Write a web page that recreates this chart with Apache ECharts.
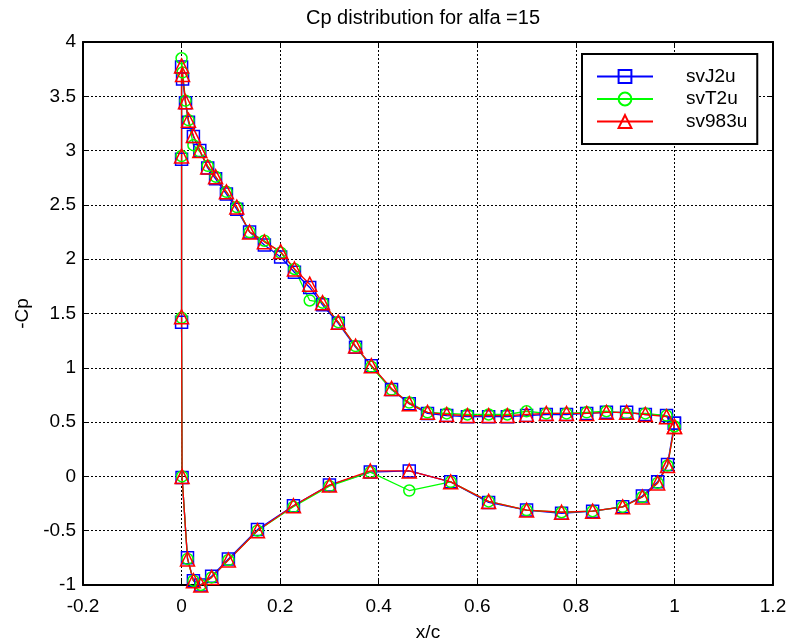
<!DOCTYPE html>
<html>
<head>
<meta charset="utf-8">
<script src="https://cdn.jsdelivr.net/npm/echarts@6/dist/echarts.min.js"></script>
<style>
html,body{margin:0;padding:0;background:#fff;}
#chart{width:797px;height:644px;}
</style>
</head>
<body>
<div id="chart"></div>
<script>
// path: trailing edge -> upper surface -> leading edge -> lower surface -> trailing edge
var xc = [1.000, 0.984, 0.941, 0.903, 0.862, 0.822, 0.781, 0.740, 0.700, 0.661, 0.623, 0.580, 0.538, 0.499, 0.462, 0.426, 0.385, 0.353, 0.318, 0.286, 0.260, 0.229, 0.201, 0.168, 0.138, 0.112, 0.091, 0.069, 0.053, 0.037, 0.024, 0.014, 0.008, 0.002, 0.000,
          0.000, 0.000, 0.001,
          0.012, 0.024, 0.039, 0.061, 0.095, 0.154, 0.227, 0.300, 0.383, 0.462, 0.546, 0.623, 0.700, 0.771, 0.834, 0.895, 0.935, 0.966, 0.986, 1.000];

var svJ2u = [0.49, 0.56, 0.57, 0.59, 0.59, 0.58, 0.57, 0.57, 0.56, 0.55, 0.55, 0.55, 0.56, 0.58, 0.67, 0.80, 1.02, 1.19, 1.41, 1.58, 1.74, 1.88, 2.02, 2.13, 2.25, 2.46, 2.60, 2.74, 2.84, 3.00, 3.13, 3.26, 3.44, 3.66, 3.77,
             2.92, 1.42, -0.01,
             -0.75, -0.96, -1.00, -0.92, -0.76, -0.49, -0.27, -0.08, 0.04, 0.05, -0.05, -0.24, -0.31, -0.34, -0.32, -0.28, -0.18, -0.05, 0.11, 0.49];

var svT2u = [0.46, 0.56, 0.58, 0.58, 0.60, 0.59, 0.58, 0.58, 0.60, 0.57, 0.57, 0.57, 0.58, 0.59, 0.68, 0.80, 1.01, 1.20, 1.42, 1.60, 1.62, 1.91, 2.06, 2.17, 2.25, 2.48, 2.62, 2.76, 2.86, 2.99, 3.05, 3.28, 3.46, 3.72, 3.85,
             2.95, 1.46, 0.00,
             -0.76, -0.96, -1.00, -0.93, -0.77, -0.50, -0.28, -0.09, 0.04, -0.13, -0.05, -0.23, -0.31, -0.33, -0.32, -0.28, -0.19, -0.06, 0.10, 0.46];

var sv983u = [0.46, 0.55, 0.57, 0.59, 0.59, 0.58, 0.58, 0.58, 0.57, 0.56, 0.56, 0.56, 0.57, 0.59, 0.67, 0.81, 1.02, 1.20, 1.42, 1.60, 1.77, 1.91, 2.07, 2.16, 2.25, 2.48, 2.62, 2.76, 2.85, 3.00, 3.14, 3.28, 3.45, 3.70, 3.78,
              2.95, 1.47, 0.00,
              -0.76, -0.96, -1.00, -0.93, -0.77, -0.50, -0.27, -0.08, 0.05, 0.05, -0.05, -0.23, -0.31, -0.33, -0.32, -0.28, -0.19, -0.06, 0.10, 0.46];

var seriesNames = ['svJ2u', 'svT2u', 'sv983u'];
var xTicks = {min: -0.2, max: 1.2, interval: 0.2};
var yTicks = {min: -1, max: 4, interval: 0.5};

function pairs(ys) { return xc.map(function (x, i) { return [x, ys[i]]; }); }

var FONT = "'Liberation Sans', Arial, sans-serif";
var FS = 19;
var chart = echarts.init(document.getElementById('chart'), null, {renderer: 'canvas'});

function mkSeries(name, ys, color, symbol, size) {
  return {
    name: name, type: 'line', data: pairs(ys),
    xAxisIndex: 0, yAxisIndex: 0,
    symbol: symbol, symbolSize: size, showSymbol: true,
    color: color,
    lineStyle: {color: color, width: 1.3},
    itemStyle: {color: 'rgba(0,0,0,0)', borderColor: color, borderWidth: 1.5},
    emphasis: {disabled: true},
    animation: false
  };
}

var axisCommon = {
  axisLine: {show: true, onZero: false, lineStyle: {color: '#000', width: 2}},
  axisTick: {show: true, inside: true, length: 6, lineStyle: {color: '#000', width: 1}},
};

chart.setOption({
  backgroundColor: '#fff',
  animation: false,
  title: {
    text: 'Cp distribution for alfa =15',
    left: 418, top: 3, textAlign: 'center',
    textStyle: {fontFamily: FONT, fontSize: 20, fontWeight: 'normal', color: '#000'}
  },
  legend: {
    data: seriesNames,
    orient: 'vertical', left: 582, top: 54,
    itemWidth: 56, itemHeight: 16, itemGap: 3.5,
    padding: [13, 10, 13, 14],
    borderColor: '#000', borderWidth: 2, backgroundColor: '#fff',
    textStyle: {fontFamily: FONT, fontSize: FS, color: '#000', padding: [0, 0, 0, 28]}
  },
  grid: {left: 83, right: 24, top: 42, bottom: 59, containLabel: false, outerBoundsMode: 'none'},
  xAxis: [
    Object.assign({
      type: 'value', min: xTicks.min, max: xTicks.max, interval: xTicks.interval, position: 'bottom',
      name: 'x/c', nameLocation: 'middle', nameGap: 38,
      nameTextStyle: {fontFamily: FONT, fontSize: FS, color: '#000'},
      axisLabel: {fontFamily: FONT, fontSize: FS, color: '#000', margin: 12},
      splitLine: {show: true, lineStyle: {color: '#000', width: 1, type: [2, 2]}}
    }, axisCommon),
    Object.assign({
      type: 'value', min: xTicks.min, max: xTicks.max, interval: xTicks.interval, position: 'top',
      axisLabel: {show: false}, splitLine: {show: false}
    }, axisCommon)
  ],
  yAxis: [
    Object.assign({
      type: 'value', min: yTicks.min, max: yTicks.max, interval: yTicks.interval, position: 'left',
      name: '-Cp', nameLocation: 'middle', nameGap: 46,
      nameTextStyle: {fontFamily: FONT, fontSize: FS, color: '#000'},
      axisLabel: {fontFamily: FONT, fontSize: FS, color: '#000', margin: 7},
      splitLine: {show: true, lineStyle: {color: '#000', width: 1, type: [2, 2]}}
    }, axisCommon),
    Object.assign({
      type: 'value', min: yTicks.min, max: yTicks.max, interval: yTicks.interval, position: 'right',
      axisLabel: {show: false}, splitLine: {show: false}
    }, axisCommon)
  ],
  series: [
    mkSeries('svJ2u', svJ2u, '#0000ff', 'rect', 12),
    mkSeries('svT2u', svT2u, '#00ff00', 'circle', 11),
    mkSeries('sv983u', sv983u, '#ff0000', 'triangle', 14)
  ]
});
</script>
</body>
</html>
